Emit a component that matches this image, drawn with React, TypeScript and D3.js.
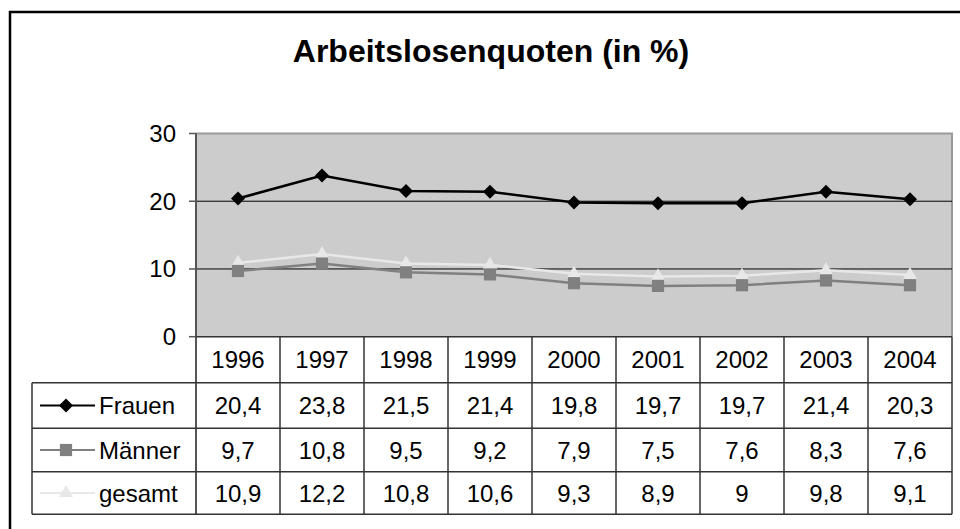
import React from 'react';
import * as d3 from 'd3';

const years = ['1996', '1997', '1998', '1999', '2000', '2001', '2002', '2003', '2004'];
const frauen = [20.4, 23.8, 21.5, 21.4, 19.8, 19.7, 19.7, 21.4, 20.3];
const maenner = [9.7, 10.8, 9.5, 9.2, 7.9, 7.5, 7.6, 8.3, 7.6];
const gesamt = [10.9, 12.2, 10.8, 10.6, 9.3, 8.9, 9, 9.8, 9.1];
const yTicks = [0, 10, 20, 30];

const seriesList = [
  { name: 'Frauen', values: frauen, color: '#000000', marker: 'diamond' },
  { name: 'Männer', values: maenner, color: '#808080', marker: 'square' },
  { name: 'gesamt', values: gesamt, color: '#e8e8e8', marker: 'triangle' },
];

const FONT = '"Liberation Sans", Arial, sans-serif';

const plotLeft = 196;
const plotRight = 952;
const plotTop = 133.5;
const plotBottom = 336.7;
const headerBottom = 382.7;
const rowLines = [428.3, 471.7, 514.3];
const tableLeft = 32;

const symbolFor = (m: string) => {
  if (m === 'diamond') return d3.symbol(d3.symbolDiamond2, 125)();
  if (m === 'square') return d3.symbol(d3.symbolSquare2, 190)();
  return d3.symbol(d3.symbolTriangle2, 140)();
};

const fmt = (v: number) => String(v).replace('.', ',');

export default function App() {
  const x = d3.scaleBand<string>().domain(years).range([plotLeft, plotRight]);
  const y = d3.scaleLinear().domain([0, 30]).range([plotBottom, plotTop]);
  const cx = (yr: string) => (x(yr) as number) + x.bandwidth() / 2;

  const line = d3
    .line<number>()
    .x((_, i) => cx(years[i]))
    .y((d) => y(d));

  const rowTops = [headerBottom, ...rowLines.slice(0, 2)];

  return (
    <svg
      width={960}
      height={529}
      style={{ position: 'absolute', left: 0, top: 0, background: '#fff' }}
      fontFamily={FONT}
    >
      {/* outer frame: only left and top edges are inside the picture */}
      <path d="M10,529V12H960" fill="none" stroke="#000" strokeWidth={2.5} />

      <text x={491} y={62} textAnchor="middle" fontSize={32} fontWeight="bold" fill="#000">
        Arbeitslosenquoten (in %)
      </text>

      {/* plot area */}
      <rect x={plotLeft} y={plotTop} width={plotRight - plotLeft} height={plotBottom - plotTop} fill="#cccccc" />
      <path
        d={`M${plotLeft},${plotTop}H${plotRight}V${plotBottom}`}
        fill="none"
        stroke="#999"
        strokeWidth={2}
      />
      {yTicks.filter((t) => t > 0 && t < 30).map((t) => (
        <line key={t} x1={plotLeft} x2={plotRight} y1={y(t)} y2={y(t)} stroke="#000" strokeWidth={1} />
      ))}

      {/* y axis */}
      {yTicks.map((t) => (
        <g key={t}>
          <line x1={189} x2={plotLeft} y1={y(t)} y2={y(t)} stroke="#555" strokeWidth={1.5} />
          <text x={176} y={y(t) + 8.5} textAnchor="end" fontSize={24} fill="#000">
            {t}
          </text>
        </g>
      ))}

      {/* series */}
      {seriesList.slice().reverse().map((s) => (
        <g key={s.name}>
          <path d={line(s.values) as string} fill="none" stroke={s.color} strokeWidth={2.5} />
          {s.values.map((v, i) => (
            <path
              key={i}
              d={symbolFor(s.marker) as string}
              transform={`translate(${cx(years[i])},${y(v)})`}
              fill={s.color}
            />
          ))}
        </g>
      ))}

      {/* data table */}
      <g stroke="#333" strokeWidth={1.5}>
        <line x1={plotLeft} x2={plotLeft} y1={plotTop} y2={rowLines[2]} stroke="#555" strokeWidth={2} />
        {years.map((yr) => (
          <line
            key={yr}
            x1={(x(yr) as number) + x.bandwidth()}
            x2={(x(yr) as number) + x.bandwidth()}
            y1={plotBottom}
            y2={rowLines[2]}
          />
        ))}
        <line x1={plotLeft} x2={plotRight} y1={plotBottom} y2={plotBottom} />
        <line x1={tableLeft} x2={plotRight} y1={headerBottom} y2={headerBottom} />
        {rowLines.map((ry) => (
          <line key={ry} x1={tableLeft} x2={plotRight} y1={ry} y2={ry} />
        ))}
        <line x1={tableLeft} x2={tableLeft} y1={headerBottom} y2={rowLines[2]} />
      </g>

      {years.map((yr) => (
        <text key={yr} x={cx(yr)} y={(plotBottom + headerBottom) / 2 + 8.5} textAnchor="middle" fontSize={24} fill="#000">
          {yr}
        </text>
      ))}

      {seriesList.map((s, r) => {
        const mid = (rowTops[r] + rowLines[r]) / 2;
        return (
          <g key={s.name}>
            <line x1={40} x2={95} y1={mid} y2={mid} stroke={s.color} strokeWidth={2} />
            <path d={symbolFor(s.marker) as string} transform={`translate(66,${mid})`} fill={s.color} />
            <text x={99} y={mid + 8.5} fontSize={24} fill="#000">
              {s.name}
            </text>
            {s.values.map((v, i) => (
              <text key={i} x={cx(years[i])} y={mid + 8.5} textAnchor="middle" fontSize={24} fill="#000">
                {fmt(v)}
              </text>
            ))}
          </g>
        );
      })}
    </svg>
  );
}
